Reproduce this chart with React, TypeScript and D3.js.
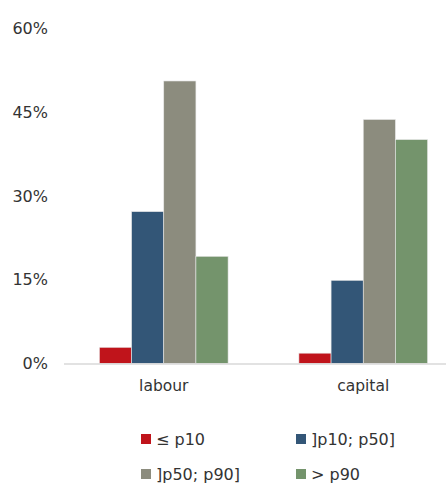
import React from "react";
import * as d3 from "d3";

const categories = ["labour", "capital"];
const seriesNames = ["≤ p10", "]p10; p50]", "]p50; p90]", "> p90"];
const seriesColors = ["#C0141B", "#335677", "#8C8C7E", "#74946C"];
const labourValues = [2.9, 27.2, 50.6, 19.2];
const capitalValues = [1.85, 14.9, 43.7, 40.1];
const yTicks = [0, 15, 30, 45, 60];

const values = [labourValues, capitalValues];

export default function App() {
  const W = 446;
  const H = 485;
  const y = d3.scaleLinear().domain([0, 60]).range([363.5, 28.5]);
  const x0 = d3.scaleBand().domain(categories).range([64, 463]).paddingInner(0.355).paddingOuter(0.1775);
  const x1 = d3.scaleBand().domain(seriesNames).range([0, x0.bandwidth()]);
  const textColor = "#333333";
  const font = "Verdana, 'DejaVu Sans', sans-serif";
  const legendPos = [
    [141, 434],
    [296, 434],
    [141, 469],
    [296, 469],
  ];
  return (
    <svg width={W} height={H} style={{ position: "absolute", left: 0, top: 0 }} fontFamily={font}>
      <rect width={W} height={H} fill="#fff" />
      {yTicks.map((t) => (
        <text key={t} x={48} y={y(t)} dy="0.35em" textAnchor="end" fontSize={16} fill={textColor}>
          {t}%
        </text>
      ))}
      {categories.map((c, ci) => (
        <g key={c} transform={`translate(${x0(c)},0)`}>
          {seriesNames.map((s, si) => (
            <rect
              key={s}
              x={x1(s)}
              y={y(values[ci][si])}
              width={x1.bandwidth()}
              height={y(0) - y(values[ci][si])}
              fill={seriesColors[si]}
              stroke="#e8e8e8"
              strokeWidth={0.6}
            />
          ))}
          <text x={x0.bandwidth() / 2} y={391} textAnchor="middle" fontSize={15.5} fill={textColor}>
            {c}
          </text>
        </g>
      ))}
      <line x1={64} x2={W} y1={y(0) + 0.5} y2={y(0) + 0.5} stroke="#d9d9d9" strokeWidth={1.5} />
      {seriesNames.map((s, i) => (
        <g key={s}>
          <rect x={legendPos[i][0]} y={legendPos[i][1]} width={10} height={10} fill={seriesColors[i]} />
          <text x={legendPos[i][0] + 15} y={legendPos[i][1] + 5} dy="0.35em" fontSize={16} fill={textColor}>
            {s}
          </text>
        </g>
      ))}
    </svg>
  );
}
